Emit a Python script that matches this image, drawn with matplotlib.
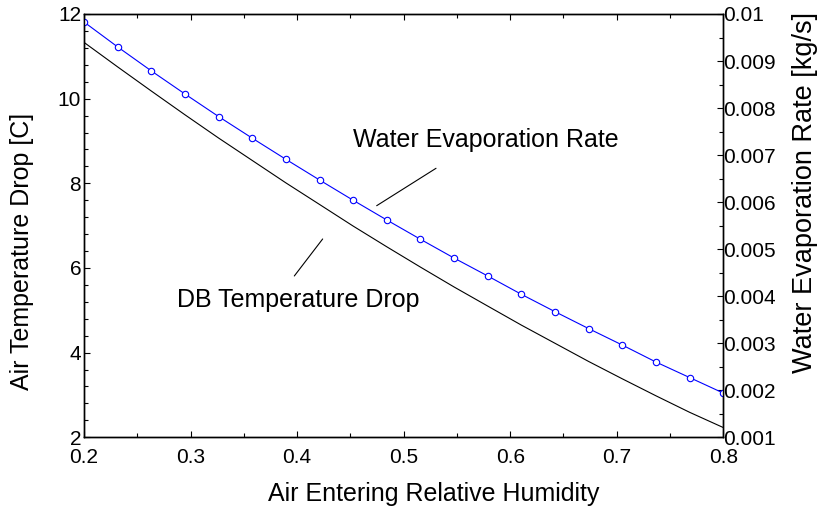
import numpy as np
import matplotlib
matplotlib.use('Agg')
import matplotlib.pyplot as plt
from matplotlib.ticker import MultipleLocator

plt.rcParams['font.family'] = ['Liberation Sans', 'DejaVu Sans']

# --------------------------------------------------
# data
# --------------------------------------------------
rh = [0.2, 0.2316, 0.2632, 0.2947, 0.3263, 0.3579, 0.3895, 0.4211, 0.4526, 0.4842,
      0.5158, 0.5474, 0.5789, 0.6105, 0.6421, 0.6737, 0.7053, 0.7368, 0.7684, 0.8]
# dry-bulb temperature drop [C]
db_drop = [11.33, 10.75, 10.18, 9.62, 9.07, 8.54, 8.01, 7.50, 6.99, 6.50,
           6.02, 5.55, 5.10, 4.65, 4.22, 3.79, 3.38, 2.98, 2.59, 2.23]
# water evaporation rate [kg/s]
evap = [0.00983, 0.00930, 0.00879, 0.00830, 0.00782, 0.00736, 0.00691, 0.00647,
        0.00604, 0.00562, 0.00521, 0.00481, 0.00443, 0.00404, 0.00367, 0.00331,
        0.00296, 0.00260, 0.00227, 0.00194]

xlims = [0.2, 0.8]
ylims_left = [2, 12]
ylims_right = [0.001, 0.01]

# --------------------------------------------------
# plot
# --------------------------------------------------
fig = plt.figure(figsize=(8.17, 5.09), dpi=100)
ax = fig.add_axes([0.1028, 0.1409, 0.7825, 0.8316])
ax2 = ax.twinx()

ax.plot(rh, db_drop, color='black', lw=0.8)
ax2.plot(rh, evap, color='#0000ff', lw=0.8, marker='o', ms=4.6,
         mfc='white', mec='#0000ff', mew=0.8)

ax.set_xlim(xlims)
ax.set_ylim(ylims_left)
ax2.set_ylim(ylims_right)

ax.xaxis.set_major_locator(MultipleLocator(0.1))
ax.xaxis.set_minor_locator(MultipleLocator(0.05))
ax.yaxis.set_major_locator(MultipleLocator(2))
ax.yaxis.set_minor_locator(MultipleLocator(0.4))
ax2.yaxis.set_major_locator(MultipleLocator(0.001))
ax2.yaxis.set_minor_locator(MultipleLocator(0.0005))
ax2.yaxis.set_major_formatter(plt.FuncFormatter(lambda v, p: f"{v:g}"))

ax.tick_params(which='both', direction='in', top=True, right=False, labelsize=15, width=0.8)
ax.tick_params(which='major', length=4.5)
ax.tick_params(which='minor', length=3)
ax.tick_params(axis='x', pad=8)
ax.tick_params(axis='y', pad=2)
ax2.tick_params(which='both', direction='in', labelsize=15, width=0.8, pad=0)
ax2.tick_params(which='major', length=4.5)
ax2.tick_params(which='minor', length=3)

for a in (ax, ax2):
    for s in a.spines.values():
        s.set_linewidth(1.0)

ax.set_xlabel("Air Entering Relative Humidity", fontsize=18)
ax.set_ylabel("Air Temperature Drop [C]", fontsize=18)
ax2.set_ylabel("Water Evaporation Rate [kg/s]", fontsize=19.5)
ax.xaxis.set_label_coords(0.547, -0.105)
ax.yaxis.set_label_coords(-0.078, 0.44)
ax2.yaxis.set_label_coords(1.107, 0.578)

# annotations with leader lines
ax.text(0.4522, 8.851, "Water Evaporation Rate", fontsize=18, ha='left', va='baseline')
ax.annotate('', xy=(0.4747, 7.471), xytext=(0.5304, 8.355),
            arrowprops=dict(arrowstyle='-', color='black', lw=0.8, shrinkA=0, shrinkB=0))
ax.text(0.287, 5.078, "DB Temperature Drop", fontsize=18, ha='left', va='baseline')
ax.annotate('', xy=(0.3974, 5.811), xytext=(0.424, 6.685),
            arrowprops=dict(arrowstyle='-', color='black', lw=0.8, shrinkA=0, shrinkB=0))

plt.savefig("out.png", dpi=100)
